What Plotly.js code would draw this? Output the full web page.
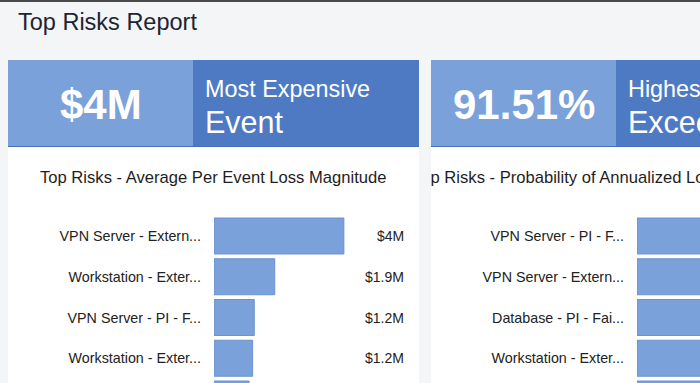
<!DOCTYPE html>
<html>
<head>
<meta charset="utf-8">
<script src="https://cdn.plot.ly/plotly-3.0.1.min.js"></script>
<style>
  html, body { margin: 0; padding: 0; width: 700px; height: 383px; overflow: hidden; background: #f4f5f7; }
  #topline { position: absolute; left: 0; top: 0; width: 700px; height: 2px; background: #4a4a4a; z-index: 5; }
  #figL { position: absolute; left: 0; top: 0; width: 420px; height: 383px; overflow: hidden; }
  #figR { position: absolute; left: 431px; top: 0; width: 411px; height: 383px; overflow: hidden; }
</style>
</head>
<body>
<div id="topline"></div>
<div id="figL"></div>
<div id="figR"></div>
<script>
// ---------------- DATA ----------------
const pageTitle = "Top Risks Report";

// Left chart: average per event loss magnitude (millions of $)
const lossTitle = "Top Risks - Average Per Event Loss Magnitude";
const lossLabels = ["VPN Server - Extern...", "Workstation - Exter...", "VPN Server - PI - F...", "Workstation - Exter...", "Database - PI - Fai..."];
const lossValues = [4.0, 1.87, 1.24, 1.19, 1.08];
const lossKpiCaption1 = "Most Expensive";
const lossKpiCaption2 = "Event";

// Right chart: probability of annualized loss exceedance (%)
const probTitle = "Top Risks - Probability of Annualized Loss Exceedance";
const probLabels = ["VPN Server - PI - F...", "VPN Server - Extern...", "Database - PI - Fai...", "Workstation - Exter...", "Workstation - Exter..."];
const probValues = [91.51, 88.2, 84.6, 80.3, 76.9];
const probKpiCaption1 = "Highest Probability";
const probKpiCaption2 = "Exceedance";

// ---------------- STYLE ----------------
const FONT = '"Liberation Sans", Arial, Helvetica, sans-serif';
const LIGHT = '#7aa1d9';
const DARK = '#4e7ac4';
const BAR = '#7aa1d9';
const BARLINE = '#6b93d0';

function fmtMoney(v) {
  const r = Math.round(v * 10) / 10;
  return '$' + (Number.isInteger(r) ? r.toFixed(0) : r.toFixed(1)) + 'M';
}
function fmtPct(v) { return v.toFixed(2) + '%'; }

function buildCard(opts) {
  const W = opts.W, H = 383;
  const X = p => p / W, Y = p => 1 - p / H;
  const c0 = opts.cardX0, c1 = opts.cardX1, split = opts.split;
  const idx = opts.labels.map((_, i) => i);
  const pitch = 40.75, firstCenter = 236;
  const yTop = firstCenter - pitch / 2;
  const rangeBottom = -0.5 + (H - yTop) / pitch;

  const shapes = [
    {type: 'rect', xref: 'paper', yref: 'paper', x0: X(c0), x1: X(c1), y0: 0, y1: Y(60), fillcolor: '#ffffff', line: {width: 0}, layer: 'below'},
    {type: 'rect', xref: 'paper', yref: 'paper', x0: X(c0), x1: X(split), y0: Y(147), y1: Y(60), fillcolor: LIGHT, line: {width: 0}, layer: 'below'},
    {type: 'rect', xref: 'paper', yref: 'paper', x0: X(split), x1: X(c1), y0: Y(147), y1: Y(60), fillcolor: DARK, line: {width: 0}, layer: 'below'},
    {type: 'line', xref: 'paper', yref: 'paper', x0: X(c0), x1: X(c1), y0: Y(146.5), y1: Y(146.5), line: {width: 1, color: '#4470ba'}, layer: 'below'}
  ];

  const annotations = [];
  if (opts.pageTitle) {
    annotations.push({xref: 'paper', yref: 'paper', x: X(16), y: Y(22), xanchor: 'left', yanchor: 'middle', showarrow: false,
      text: opts.pageTitle, font: {family: FONT, size: 23.5, color: '#1c2533'}});
  }
  annotations.push(
    {xref: 'paper', yref: 'paper', x: X((c0 + split) / 2), y: Y(105), xanchor: 'center', yanchor: 'middle', showarrow: false,
     text: '<b>' + opts.kpi + '</b>', font: {family: FONT, size: 42, color: '#ffffff'}},
    {xref: 'paper', yref: 'paper', x: X(split + 10), y: Y(89), xanchor: 'left', yanchor: 'middle', showarrow: false,
     text: opts.cap1, font: {family: FONT, size: 23.4, color: '#ffffff'}},
    {xref: 'paper', yref: 'paper', x: X(split + 10), y: Y(122), xanchor: 'left', yanchor: 'middle', showarrow: false,
     text: opts.cap2, font: {family: FONT, size: 30.5, color: '#ffffff'}},
    {xref: 'paper', yref: 'paper', x: X((c0 + c1) / 2 + (opts.titleShift || 0)), y: Y(177), xanchor: 'center', yanchor: 'middle', showarrow: false,
     text: opts.title, font: {family: FONT, size: 16.6, color: '#1e1e1e'}}
  );
  opts.values.forEach((v, i) => {
    annotations.push({xref: 'paper', yref: 'y', x: X(c0 + 398), y: i, xanchor: 'right', yanchor: 'middle', showarrow: false,
      text: opts.fmt(v), font: {family: FONT, size: 14, color: '#222222'}});
  });

  const trace = {
    type: 'bar', orientation: 'h', x: opts.values, y: idx,
    marker: {color: BAR, line: {color: BARLINE, width: 1}},
    hoverinfo: 'none', cliponaxis: true
  };
  const layout = {
    width: W, height: H,
    margin: {l: 0, r: 0, t: 0, b: 0},
    paper_bgcolor: 'rgba(0,0,0,0)', plot_bgcolor: 'rgba(0,0,0,0)',
    showlegend: false, bargap: 0.117,
    xaxis: {domain: [X(c0 + 206), X(c0 + 206 + 176)], range: opts.xrange, visible: false, fixedrange: true},
    yaxis: {domain: [0, Y(yTop)], range: [rangeBottom, -0.5], tickmode: 'array', tickvals: idx, ticktext: opts.labels,
            ticks: '', showgrid: false, zeroline: false, showline: false, ticklabelstandoff: 12,
            tickfont: {family: FONT, size: 14.3, color: '#222222'}, fixedrange: true},
    shapes: shapes, annotations: annotations,
    font: {family: FONT}
  };
  return {data: [trace], layout: layout};
}

const left = buildCard({
  W: 420, cardX0: 8, cardX1: 419, split: 193,
  pageTitle: pageTitle, kpi: fmtMoney(Math.max(...lossValues)), cap1: lossKpiCaption1, cap2: lossKpiCaption2,
  title: lossTitle, labels: lossLabels, values: lossValues, fmt: fmtMoney, xrange: [0, 5.42]
});
const right = buildCard({
  W: 411, cardX0: 0, cardX1: 411, split: 185,
  kpi: fmtPct(Math.max(...probValues)), cap1: probKpiCaption1, cap2: probKpiCaption2,
  title: probTitle, labels: probLabels, values: probValues, fmt: fmtPct, xrange: [0, 124], titleShift: -22
});

Plotly.newPlot('figL', left.data, left.layout, {staticPlot: true, displayModeBar: false});
Plotly.newPlot('figR', right.data, right.layout, {staticPlot: true, displayModeBar: false});
</script>
</body>
</html>
